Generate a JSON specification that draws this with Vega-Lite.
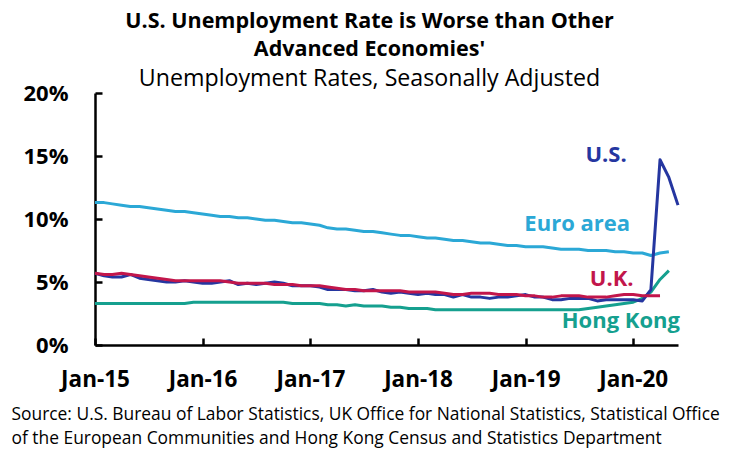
{
  "$schema": "https://vega.github.io/schema/vega-lite/v6.json",
  "width": 583,
  "height": 252,
  "autosize": "none",
  "padding": {"left": 95, "top": 93, "right": 56, "bottom": 107},
  "background": "white",
  "config": {
    "font": "Open Sans",
    "view": {"stroke": null},
    "title": {"color": "black"}
  },
  "title": {
    "text": ["U.S. Unemployment Rate is Worse than Other", "Advanced Economies'"],
    "subtitle": "Unemployment Rates, Seasonally Adjusted",
    "fontSize": 21.5,
    "fontWeight": "bold",
    "lineHeight": 28,
    "subtitleFontSize": 23.2,
    "subtitleFontWeight": "normal",
    "subtitleColor": "black",
    "subtitlePadding": 7,
    "anchor": "middle",
    "frame": "group",
    "dx": -17,
    "offset": -8
  },
  "datasets": {
    "rates": [
      {"date":"2015-01-01","series":"Euro area","rate":11.3},{"date":"2015-02-01","series":"Euro area","rate":11.3},{"date":"2015-03-01","series":"Euro area","rate":11.2},{"date":"2015-04-01","series":"Euro area","rate":11.1},{"date":"2015-05-01","series":"Euro area","rate":11.0},{"date":"2015-06-01","series":"Euro area","rate":11.0},{"date":"2015-07-01","series":"Euro area","rate":10.9},{"date":"2015-08-01","series":"Euro area","rate":10.8},{"date":"2015-09-01","series":"Euro area","rate":10.7},{"date":"2015-10-01","series":"Euro area","rate":10.6},{"date":"2015-11-01","series":"Euro area","rate":10.6},{"date":"2015-12-01","series":"Euro area","rate":10.5},
      {"date":"2016-01-01","series":"Euro area","rate":10.4},{"date":"2016-02-01","series":"Euro area","rate":10.3},{"date":"2016-03-01","series":"Euro area","rate":10.2},{"date":"2016-04-01","series":"Euro area","rate":10.2},{"date":"2016-05-01","series":"Euro area","rate":10.1},{"date":"2016-06-01","series":"Euro area","rate":10.1},{"date":"2016-07-01","series":"Euro area","rate":10.0},{"date":"2016-08-01","series":"Euro area","rate":9.9},{"date":"2016-09-01","series":"Euro area","rate":9.9},{"date":"2016-10-01","series":"Euro area","rate":9.8},{"date":"2016-11-01","series":"Euro area","rate":9.7},{"date":"2016-12-01","series":"Euro area","rate":9.7},
      {"date":"2017-01-01","series":"Euro area","rate":9.6},{"date":"2017-02-01","series":"Euro area","rate":9.5},{"date":"2017-03-01","series":"Euro area","rate":9.3},{"date":"2017-04-01","series":"Euro area","rate":9.2},{"date":"2017-05-01","series":"Euro area","rate":9.2},{"date":"2017-06-01","series":"Euro area","rate":9.1},{"date":"2017-07-01","series":"Euro area","rate":9.0},{"date":"2017-08-01","series":"Euro area","rate":9.0},{"date":"2017-09-01","series":"Euro area","rate":8.9},{"date":"2017-10-01","series":"Euro area","rate":8.8},{"date":"2017-11-01","series":"Euro area","rate":8.7},{"date":"2017-12-01","series":"Euro area","rate":8.7},
      {"date":"2018-01-01","series":"Euro area","rate":8.6},{"date":"2018-02-01","series":"Euro area","rate":8.5},{"date":"2018-03-01","series":"Euro area","rate":8.5},{"date":"2018-04-01","series":"Euro area","rate":8.4},{"date":"2018-05-01","series":"Euro area","rate":8.3},{"date":"2018-06-01","series":"Euro area","rate":8.3},{"date":"2018-07-01","series":"Euro area","rate":8.2},{"date":"2018-08-01","series":"Euro area","rate":8.1},{"date":"2018-09-01","series":"Euro area","rate":8.1},{"date":"2018-10-01","series":"Euro area","rate":8.0},{"date":"2018-11-01","series":"Euro area","rate":7.9},{"date":"2018-12-01","series":"Euro area","rate":7.9},
      {"date":"2019-01-01","series":"Euro area","rate":7.8},{"date":"2019-02-01","series":"Euro area","rate":7.8},{"date":"2019-03-01","series":"Euro area","rate":7.8},{"date":"2019-04-01","series":"Euro area","rate":7.7},{"date":"2019-05-01","series":"Euro area","rate":7.6},{"date":"2019-06-01","series":"Euro area","rate":7.6},{"date":"2019-07-01","series":"Euro area","rate":7.6},{"date":"2019-08-01","series":"Euro area","rate":7.5},{"date":"2019-09-01","series":"Euro area","rate":7.5},{"date":"2019-10-01","series":"Euro area","rate":7.5},{"date":"2019-11-01","series":"Euro area","rate":7.4},{"date":"2019-12-01","series":"Euro area","rate":7.4},
      {"date":"2020-01-01","series":"Euro area","rate":7.3},{"date":"2020-02-01","series":"Euro area","rate":7.3},{"date":"2020-03-01","series":"Euro area","rate":7.1},{"date":"2020-04-01","series":"Euro area","rate":7.3},{"date":"2020-05-01","series":"Euro area","rate":7.4},

      {"date":"2015-01-01","series":"Hong Kong","rate":3.3},{"date":"2015-02-01","series":"Hong Kong","rate":3.3},{"date":"2015-03-01","series":"Hong Kong","rate":3.3},{"date":"2015-04-01","series":"Hong Kong","rate":3.3},{"date":"2015-05-01","series":"Hong Kong","rate":3.3},{"date":"2015-06-01","series":"Hong Kong","rate":3.3},{"date":"2015-07-01","series":"Hong Kong","rate":3.3},{"date":"2015-08-01","series":"Hong Kong","rate":3.3},{"date":"2015-09-01","series":"Hong Kong","rate":3.3},{"date":"2015-10-01","series":"Hong Kong","rate":3.3},{"date":"2015-11-01","series":"Hong Kong","rate":3.3},{"date":"2015-12-01","series":"Hong Kong","rate":3.4},
      {"date":"2016-01-01","series":"Hong Kong","rate":3.4},{"date":"2016-02-01","series":"Hong Kong","rate":3.4},{"date":"2016-03-01","series":"Hong Kong","rate":3.4},{"date":"2016-04-01","series":"Hong Kong","rate":3.4},{"date":"2016-05-01","series":"Hong Kong","rate":3.4},{"date":"2016-06-01","series":"Hong Kong","rate":3.4},{"date":"2016-07-01","series":"Hong Kong","rate":3.4},{"date":"2016-08-01","series":"Hong Kong","rate":3.4},{"date":"2016-09-01","series":"Hong Kong","rate":3.4},{"date":"2016-10-01","series":"Hong Kong","rate":3.4},{"date":"2016-11-01","series":"Hong Kong","rate":3.3},{"date":"2016-12-01","series":"Hong Kong","rate":3.3},
      {"date":"2017-01-01","series":"Hong Kong","rate":3.3},{"date":"2017-02-01","series":"Hong Kong","rate":3.3},{"date":"2017-03-01","series":"Hong Kong","rate":3.2},{"date":"2017-04-01","series":"Hong Kong","rate":3.2},{"date":"2017-05-01","series":"Hong Kong","rate":3.1},{"date":"2017-06-01","series":"Hong Kong","rate":3.2},{"date":"2017-07-01","series":"Hong Kong","rate":3.1},{"date":"2017-08-01","series":"Hong Kong","rate":3.1},{"date":"2017-09-01","series":"Hong Kong","rate":3.1},{"date":"2017-10-01","series":"Hong Kong","rate":3.0},{"date":"2017-11-01","series":"Hong Kong","rate":3.0},{"date":"2017-12-01","series":"Hong Kong","rate":2.9},
      {"date":"2018-01-01","series":"Hong Kong","rate":2.9},{"date":"2018-02-01","series":"Hong Kong","rate":2.9},{"date":"2018-03-01","series":"Hong Kong","rate":2.8},{"date":"2018-04-01","series":"Hong Kong","rate":2.8},{"date":"2018-05-01","series":"Hong Kong","rate":2.8},{"date":"2018-06-01","series":"Hong Kong","rate":2.8},{"date":"2018-07-01","series":"Hong Kong","rate":2.8},{"date":"2018-08-01","series":"Hong Kong","rate":2.8},{"date":"2018-09-01","series":"Hong Kong","rate":2.8},{"date":"2018-10-01","series":"Hong Kong","rate":2.8},{"date":"2018-11-01","series":"Hong Kong","rate":2.8},{"date":"2018-12-01","series":"Hong Kong","rate":2.8},
      {"date":"2019-01-01","series":"Hong Kong","rate":2.8},{"date":"2019-02-01","series":"Hong Kong","rate":2.8},{"date":"2019-03-01","series":"Hong Kong","rate":2.8},{"date":"2019-04-01","series":"Hong Kong","rate":2.8},{"date":"2019-05-01","series":"Hong Kong","rate":2.8},{"date":"2019-06-01","series":"Hong Kong","rate":2.8},{"date":"2019-07-01","series":"Hong Kong","rate":2.8},{"date":"2019-08-01","series":"Hong Kong","rate":2.9},{"date":"2019-09-01","series":"Hong Kong","rate":3.0},{"date":"2019-10-01","series":"Hong Kong","rate":3.1},{"date":"2019-11-01","series":"Hong Kong","rate":3.2},{"date":"2019-12-01","series":"Hong Kong","rate":3.3},
      {"date":"2020-01-01","series":"Hong Kong","rate":3.4},{"date":"2020-02-01","series":"Hong Kong","rate":3.7},{"date":"2020-03-01","series":"Hong Kong","rate":4.2},{"date":"2020-04-01","series":"Hong Kong","rate":5.2},{"date":"2020-05-01","series":"Hong Kong","rate":5.9},

      {"date":"2015-01-01","series":"U.S.","rate":5.7},{"date":"2015-02-01","series":"U.S.","rate":5.5},{"date":"2015-03-01","series":"U.S.","rate":5.4},{"date":"2015-04-01","series":"U.S.","rate":5.4},{"date":"2015-05-01","series":"U.S.","rate":5.6},{"date":"2015-06-01","series":"U.S.","rate":5.3},{"date":"2015-07-01","series":"U.S.","rate":5.2},{"date":"2015-08-01","series":"U.S.","rate":5.1},{"date":"2015-09-01","series":"U.S.","rate":5.0},{"date":"2015-10-01","series":"U.S.","rate":5.0},{"date":"2015-11-01","series":"U.S.","rate":5.1},{"date":"2015-12-01","series":"U.S.","rate":5.0},
      {"date":"2016-01-01","series":"U.S.","rate":4.9},{"date":"2016-02-01","series":"U.S.","rate":4.9},{"date":"2016-03-01","series":"U.S.","rate":5.0},{"date":"2016-04-01","series":"U.S.","rate":5.1},{"date":"2016-05-01","series":"U.S.","rate":4.8},{"date":"2016-06-01","series":"U.S.","rate":4.9},{"date":"2016-07-01","series":"U.S.","rate":4.8},{"date":"2016-08-01","series":"U.S.","rate":4.9},{"date":"2016-09-01","series":"U.S.","rate":5.0},{"date":"2016-10-01","series":"U.S.","rate":4.9},{"date":"2016-11-01","series":"U.S.","rate":4.7},{"date":"2016-12-01","series":"U.S.","rate":4.7},
      {"date":"2017-01-01","series":"U.S.","rate":4.7},{"date":"2017-02-01","series":"U.S.","rate":4.6},{"date":"2017-03-01","series":"U.S.","rate":4.4},{"date":"2017-04-01","series":"U.S.","rate":4.4},{"date":"2017-05-01","series":"U.S.","rate":4.4},{"date":"2017-06-01","series":"U.S.","rate":4.3},{"date":"2017-07-01","series":"U.S.","rate":4.3},{"date":"2017-08-01","series":"U.S.","rate":4.4},{"date":"2017-09-01","series":"U.S.","rate":4.2},{"date":"2017-10-01","series":"U.S.","rate":4.1},{"date":"2017-11-01","series":"U.S.","rate":4.2},{"date":"2017-12-01","series":"U.S.","rate":4.1},
      {"date":"2018-01-01","series":"U.S.","rate":4.0},{"date":"2018-02-01","series":"U.S.","rate":4.1},{"date":"2018-03-01","series":"U.S.","rate":4.0},{"date":"2018-04-01","series":"U.S.","rate":4.0},{"date":"2018-05-01","series":"U.S.","rate":3.8},{"date":"2018-06-01","series":"U.S.","rate":4.0},{"date":"2018-07-01","series":"U.S.","rate":3.8},{"date":"2018-08-01","series":"U.S.","rate":3.8},{"date":"2018-09-01","series":"U.S.","rate":3.7},{"date":"2018-10-01","series":"U.S.","rate":3.8},{"date":"2018-11-01","series":"U.S.","rate":3.8},{"date":"2018-12-01","series":"U.S.","rate":3.9},
      {"date":"2019-01-01","series":"U.S.","rate":4.0},{"date":"2019-02-01","series":"U.S.","rate":3.8},{"date":"2019-03-01","series":"U.S.","rate":3.8},{"date":"2019-04-01","series":"U.S.","rate":3.6},{"date":"2019-05-01","series":"U.S.","rate":3.6},{"date":"2019-06-01","series":"U.S.","rate":3.7},{"date":"2019-07-01","series":"U.S.","rate":3.7},{"date":"2019-08-01","series":"U.S.","rate":3.7},{"date":"2019-09-01","series":"U.S.","rate":3.5},{"date":"2019-10-01","series":"U.S.","rate":3.6},{"date":"2019-11-01","series":"U.S.","rate":3.6},{"date":"2019-12-01","series":"U.S.","rate":3.6},
      {"date":"2020-01-01","series":"U.S.","rate":3.6},{"date":"2020-02-01","series":"U.S.","rate":3.5},{"date":"2020-03-01","series":"U.S.","rate":4.4},{"date":"2020-04-01","series":"U.S.","rate":14.7},{"date":"2020-05-01","series":"U.S.","rate":13.3},{"date":"2020-06-01","series":"U.S.","rate":11.1},

      {"date":"2015-01-01","series":"U.K.","rate":5.7},{"date":"2015-02-01","series":"U.K.","rate":5.6},{"date":"2015-03-01","series":"U.K.","rate":5.6},{"date":"2015-04-01","series":"U.K.","rate":5.7},{"date":"2015-05-01","series":"U.K.","rate":5.6},{"date":"2015-06-01","series":"U.K.","rate":5.5},{"date":"2015-07-01","series":"U.K.","rate":5.4},{"date":"2015-08-01","series":"U.K.","rate":5.3},{"date":"2015-09-01","series":"U.K.","rate":5.2},{"date":"2015-10-01","series":"U.K.","rate":5.1},{"date":"2015-11-01","series":"U.K.","rate":5.1},{"date":"2015-12-01","series":"U.K.","rate":5.1},
      {"date":"2016-01-01","series":"U.K.","rate":5.1},{"date":"2016-02-01","series":"U.K.","rate":5.1},{"date":"2016-03-01","series":"U.K.","rate":5.1},{"date":"2016-04-01","series":"U.K.","rate":5.0},{"date":"2016-05-01","series":"U.K.","rate":4.9},{"date":"2016-06-01","series":"U.K.","rate":4.9},{"date":"2016-07-01","series":"U.K.","rate":4.9},{"date":"2016-08-01","series":"U.K.","rate":4.9},{"date":"2016-09-01","series":"U.K.","rate":4.8},{"date":"2016-10-01","series":"U.K.","rate":4.8},{"date":"2016-11-01","series":"U.K.","rate":4.8},{"date":"2016-12-01","series":"U.K.","rate":4.7},
      {"date":"2017-01-01","series":"U.K.","rate":4.7},{"date":"2017-02-01","series":"U.K.","rate":4.7},{"date":"2017-03-01","series":"U.K.","rate":4.6},{"date":"2017-04-01","series":"U.K.","rate":4.5},{"date":"2017-05-01","series":"U.K.","rate":4.4},{"date":"2017-06-01","series":"U.K.","rate":4.4},{"date":"2017-07-01","series":"U.K.","rate":4.3},{"date":"2017-08-01","series":"U.K.","rate":4.3},{"date":"2017-09-01","series":"U.K.","rate":4.3},{"date":"2017-10-01","series":"U.K.","rate":4.3},{"date":"2017-11-01","series":"U.K.","rate":4.3},{"date":"2017-12-01","series":"U.K.","rate":4.2},
      {"date":"2018-01-01","series":"U.K.","rate":4.2},{"date":"2018-02-01","series":"U.K.","rate":4.2},{"date":"2018-03-01","series":"U.K.","rate":4.2},{"date":"2018-04-01","series":"U.K.","rate":4.1},{"date":"2018-05-01","series":"U.K.","rate":4.0},{"date":"2018-06-01","series":"U.K.","rate":4.0},{"date":"2018-07-01","series":"U.K.","rate":4.1},{"date":"2018-08-01","series":"U.K.","rate":4.1},{"date":"2018-09-01","series":"U.K.","rate":4.1},{"date":"2018-10-01","series":"U.K.","rate":4.0},{"date":"2018-11-01","series":"U.K.","rate":4.0},{"date":"2018-12-01","series":"U.K.","rate":4.0},
      {"date":"2019-01-01","series":"U.K.","rate":3.9},{"date":"2019-02-01","series":"U.K.","rate":3.9},{"date":"2019-03-01","series":"U.K.","rate":3.8},{"date":"2019-04-01","series":"U.K.","rate":3.8},{"date":"2019-05-01","series":"U.K.","rate":3.9},{"date":"2019-06-01","series":"U.K.","rate":3.9},{"date":"2019-07-01","series":"U.K.","rate":3.9},{"date":"2019-08-01","series":"U.K.","rate":3.8},{"date":"2019-09-01","series":"U.K.","rate":3.8},{"date":"2019-10-01","series":"U.K.","rate":3.8},{"date":"2019-11-01","series":"U.K.","rate":3.9},{"date":"2019-12-01","series":"U.K.","rate":4.0},
      {"date":"2020-01-01","series":"U.K.","rate":4.0},{"date":"2020-02-01","series":"U.K.","rate":3.9},{"date":"2020-03-01","series":"U.K.","rate":3.9},{"date":"2020-04-01","series":"U.K.","rate":3.9}
    ],
    "labels": [
      {"date":"2019-10-01","series":"U.S.","rate":15.1},
      {"date":"2019-06-25","series":"Euro area","rate":9.6},
      {"date":"2019-10-20","series":"U.K.","rate":5.2},
      {"date":"2019-11-20","series":"Hong Kong","rate":1.9}
    ]
  },
  "encoding": {
    "x": {
      "field": "date",
      "type": "temporal",
      "scale": {
        "type": "utc",
        "domain": [{"year": 2015, "month": 1, "date": 1, "utc": true}, {"year": 2020, "month": 6, "date": 1, "utc": true}]
      },
      "axis": {
        "values": [
          {"year": 2015, "month": 1, "date": 1, "utc": true},
          {"year": 2016, "month": 1, "date": 1, "utc": true},
          {"year": 2017, "month": 1, "date": 1, "utc": true},
          {"year": 2018, "month": 1, "date": 1, "utc": true},
          {"year": 2019, "month": 1, "date": 1, "utc": true},
          {"year": 2020, "month": 1, "date": 1, "utc": true}
        ],
        "format": "%b-%y",
        "labelFontSize": 22.5,
        "labelFontWeight": "bold",
        "labelColor": "black",
        "labelPadding": 30,
        "labelAlign": "center",
        "labelOverlap": false,
        "labelFlush": false,
        "domainColor": "black",
        "domainWidth": 2.5,
        "tickColor": "black",
        "tickWidth": 2.5,
        "tickSize": -7,
        "grid": false,
        "title": ["Source: U.S. Bureau of Labor Statistics, UK Office for National Statistics, Statistical Office", "of the European Communities and Hong Kong Census and Statistics Department"],
        "titleFontSize": 17.4,
        "titleFontWeight": "normal",
        "titleColor": "black",
        "titleAnchor": "start",
        "titleAlign": "left",
        "titleBaseline": "alphabetic",
        "titleX": -84,
        "titleY": 74,
        "titleLineHeight": 24
      }
    },
    "y": {
      "field": "rate",
      "type": "quantitative",
      "scale": {"domain": [0, 20]},
      "axis": {
        "values": [0, 5, 10, 15, 20],
        "labelExpr": "datum.value + '%'",
        "labelFontSize": 22,
        "labelFontWeight": "bold",
        "labelColor": "black",
        "labelPadding": 34,
        "domainColor": "black",
        "domainWidth": 2.5,
        "tickColor": "black",
        "tickWidth": 2.5,
        "tickSize": -7,
        "grid": false,
        "title": null
      }
    },
    "color": {
      "field": "series",
      "type": "nominal",
      "scale": {
        "domain": ["Euro area", "Hong Kong", "U.S.", "U.K."],
        "range": ["#2ba8d6", "#15a08f", "#2536a0", "#c2164b"]
      },
      "legend": null
    }
  },
  "layer": [
    {
      "data": {"name": "rates"},
      "mark": {"type": "line", "strokeWidth": 3, "strokeJoin": "round"}
    },
    {
      "data": {"name": "labels"},
      "mark": {"type": "text", "fontSize": 22, "fontWeight": "bold", "align": "center", "baseline": "middle"},
      "encoding": {"text": {"field": "series"}}
    }
  ]
}
